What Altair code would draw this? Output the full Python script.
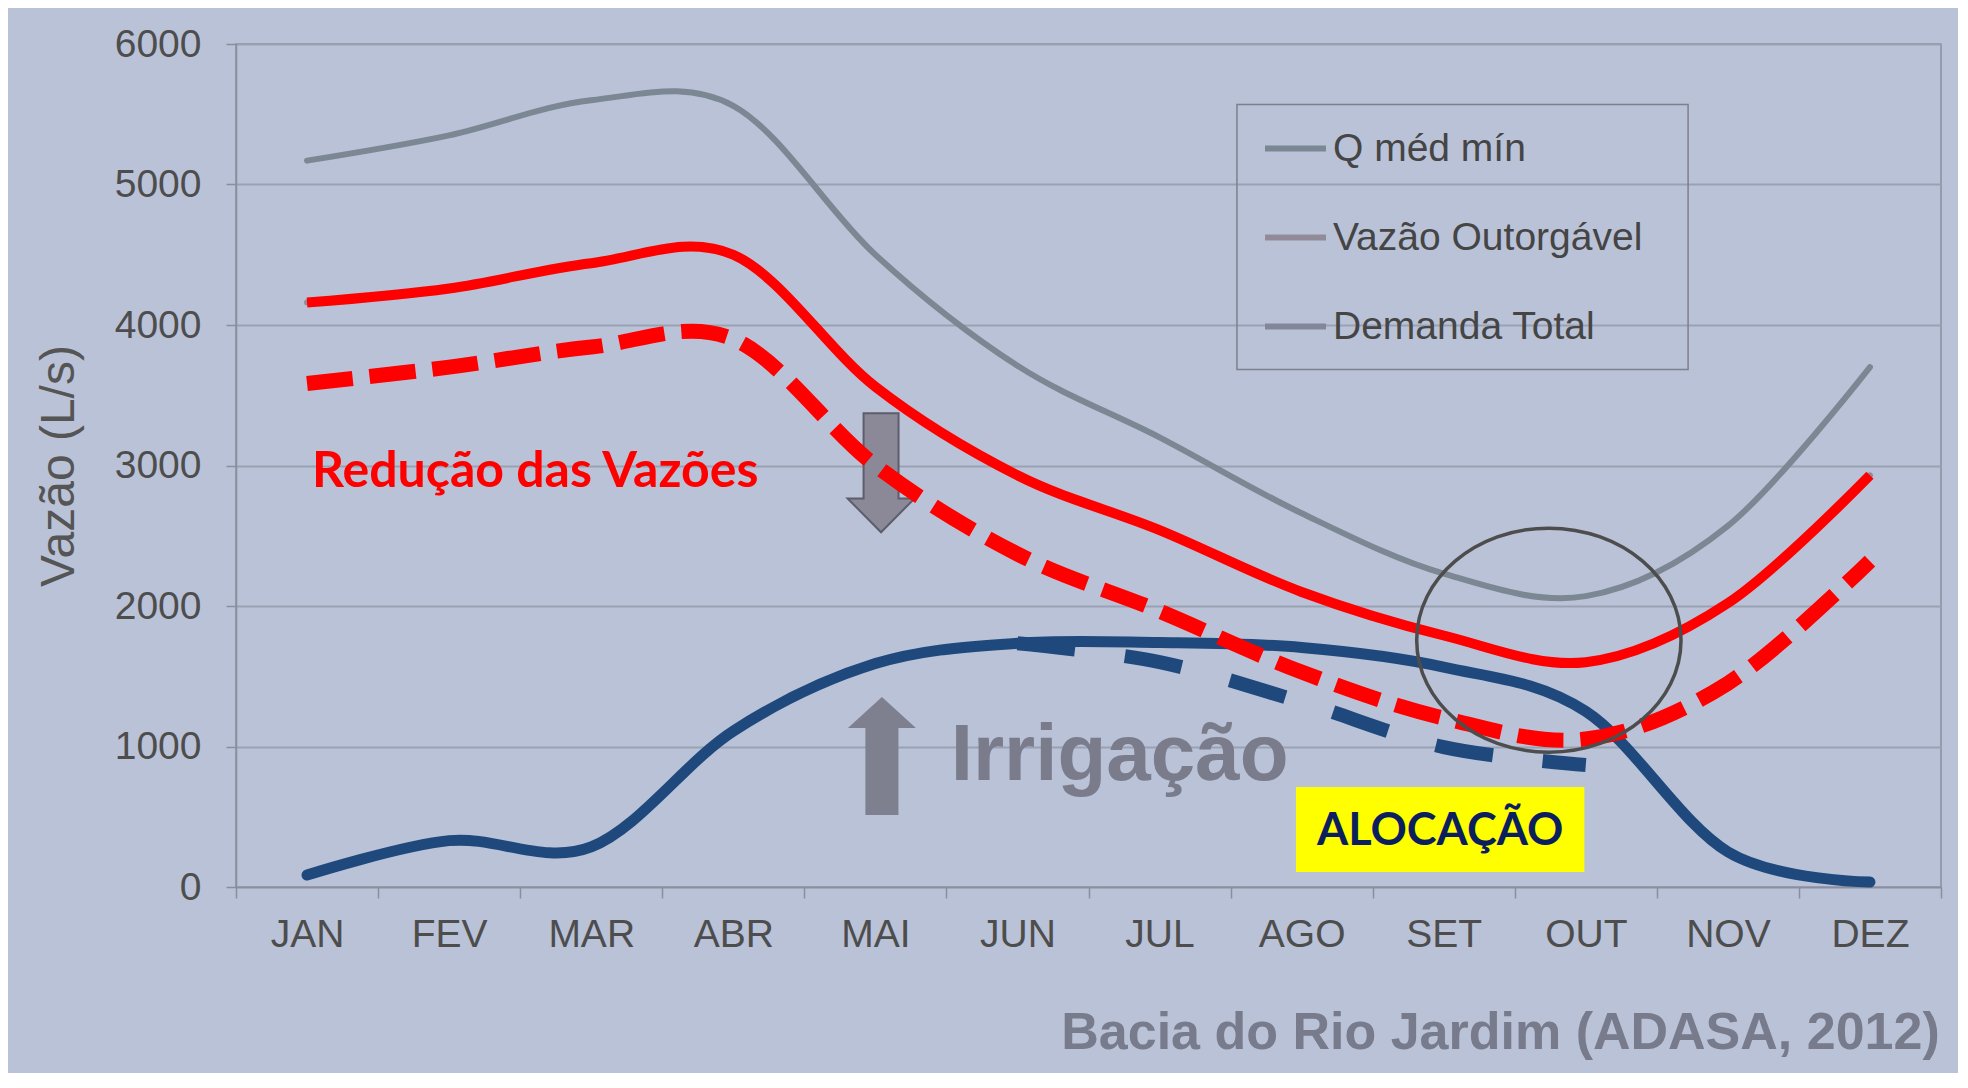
import altair as alt
import pandas as pd

# ---------------- data ----------------
months = ["JAN", "FEV", "MAR", "ABR", "MAI", "JUN", "JUL", "AGO", "SET", "OUT", "NOV", "DEZ"]
series_names = ["Q méd mín", "Vazão Outorgável", "Demanda Total"]
series_colors = ["#7b8792", "#918b98", "#84879a"]

q_med_min = [5170, 5350, 5600, 5560, 4500, 3710, 3200, 2660, 2230, 2070, 2570, 3700]
vazao_outorgavel = [4160, 4260, 4440, 4500, 3560, 2930, 2540, 2100, 1790, 1600, 2020, 2930]
demanda_total = [85, 330, 285, 1110, 1590, 1735, 1740, 1705, 1565, 1250, 250, 35]

# hand-drawn overlays
vazao_reduzida = [3584, 3700, 3843, 3900, 3000, 2370, 1963, 1530, 1202, 1053, 1450, 2320]
alocacao_months = ["JUN", "JUL", "AGO", "SET", "OUT"]
alocacao_reduzida = [1735, 1600, 1316, 996, 868]

y_ticks = [0, 1000, 2000, 3000, 4000, 5000, 6000]

# annotation anchors (x = month index, y = L/s)
txt_reducao = {"i": 0.035, "v": 2845, "t": "Redução das Vazões"}
txt_irrigacao = {"i": 4.53, "v": 761, "t": "Irrigação"}
txt_alocacao = {"i": 7.975, "v": 299, "t": "ALOCAÇÃO"}
box_alocacao = {"i": 6.96, "i2": 8.99, "v": 711, "v2": 107}
arrow_down = {"i": 4.04, "v": 2948}
arrow_up = {"i": 4.046, "v": 932}
ellipse = {"i": 8.74, "v": 1757}
legend_box = {"i": 6.545, "i2": 9.72, "v": 5569, "v2": 3684}

BG = "#bac2d7"

# ---------------- tables ----------------
rows = []
for name, vals in zip(series_names, [q_med_min, vazao_outorgavel, demanda_total]):
    for k, (m, val) in enumerate(zip(months, vals)):
        rows.append({"i": k, "mes": m, "serie": name, "v": val})
base_df = pd.DataFrame(rows)

vo_df = pd.DataFrame({"i": list(range(12)), "v": vazao_outorgavel})
dt_df = pd.DataFrame({"i": list(range(12)), "v": demanda_total})
red_df = pd.DataFrame({"i": list(range(12)), "v": vazao_reduzida})
blue_df = pd.DataFrame({"i": [months.index(m) for m in alocacao_months], "v": alocacao_reduzida})

# ---------------- scales / axes ----------------
month_expr = "[" + ",".join("'%s'" % m for m in months) + "][datum.value]"
x_values = [k * 0.5 - 0.5 for k in range(25)]

x_axis = alt.Axis(
    values=x_values,
    labelExpr="datum.value % 1 == 0 ? " + month_expr + " : ''",
    labelOverlap=False,
    labelFlush=False,
    grid=False,
    tickSize=11,
    tickOpacity={"condition": {"test": "datum.value % 1 == 0", "value": 0}, "value": 1},
    labelPadding=17,
    title=None,
)
y_axis = alt.Axis(
    values=y_ticks,
    format="d",
    grid=True,
    tickSize=10,
    labelPadding=25,
    title="Vazão (L/s)",
    titlePadding=31,
    titleFontSize=48,
    titleFontWeight="normal",
    titleColor="#555555",
    titleFont="Liberation Sans",
)
xs = alt.Scale(domain=[-0.5, 11.5], nice=False, zero=False)
ys = alt.Scale(domain=[0, 6000], nice=False)

X = alt.X("i:Q", scale=xs, axis=x_axis)
Y = alt.Y("v:Q", scale=ys, axis=y_axis)

# ---------------- layers ----------------
base_lines = alt.Chart(base_df).mark_line(interpolate="cardinal", strokeWidth=6, strokeCap="round").encode(
    x=X, y=Y,
    color=alt.Color(
        "serie:N",
        scale=alt.Scale(domain=series_names, range=series_colors),
        legend=alt.Legend(
            title=None,
            orient="none",
            legendX=1026,
            legendY=71,
            symbolType="stroke",
            symbolSize=3721,
            symbolStrokeWidth=6,
            labelFont="Liberation Sans",
            labelFontSize=39,
            labelColor="#454545",
            labelOffset=4,
            labelLimit=600,
            rowPadding=35,
            padding=0,
        ),
    ),
    detail="serie:N",
)

red_solid = alt.Chart(vo_df).mark_line(interpolate="cardinal", strokeWidth=10, color="#ff0000").encode(x=X, y=Y)
red_dash = alt.Chart(red_df).mark_line(
    interpolate="cardinal", strokeWidth=15, color="#ff0000", strokeDash=[46, 17]
).encode(x=X, y=Y)
blue_solid = alt.Chart(dt_df).mark_line(
    interpolate="cardinal", strokeWidth=11, color="#1f497d", strokeCap="round"
).encode(x=X, y=Y)
blue_dash = alt.Chart(blue_df).mark_line(
    interpolate="cardinal", strokeWidth=14, color="#1f497d", strokeDash=[58, 50]
).encode(x=X, y=Y)

leg_box = alt.Chart(pd.DataFrame([legend_box])).mark_rect(
    fillOpacity=0, stroke="#7d818d", strokeWidth=1.5
).encode(x=X, x2="i2:Q", y=Y, y2="v2:Q")

yellow = alt.Chart(pd.DataFrame([box_alocacao])).mark_rect(color="#ffff00").encode(
    x=X, x2="i2:Q", y=Y, y2="v2:Q"
)

down_path = "M -0.294 -1 L 0.294 -1 L 0.294 0.43 L 0.563 0.43 L 0 1 L -0.563 0.43 L -0.294 0.43 Z"
up_path = "M 0 -1 L 0.576 -0.475 L 0.28 -0.475 L 0.28 1 L -0.28 1 L -0.28 -0.475 L -0.576 -0.475 Z"
ell_path = "M -1.18 0 A 1.18 1 0 1 1 1.18 0 A 1.18 1 0 1 1 -1.18 0 Z"

a_down = alt.Chart(pd.DataFrame([arrow_down])).mark_point(
    shape=down_path, size=14161, filled=True, fill="#8b8898", stroke="#5e5d6a", strokeWidth=2, opacity=1
).encode(x=X, y=Y)
a_up = alt.Chart(pd.DataFrame([arrow_up])).mark_point(
    shape=up_path, size=13924, filled=True, fill="#7f808f", strokeWidth=0, opacity=1
).encode(x=X, y=Y)
ell = alt.Chart(pd.DataFrame([ellipse])).mark_point(
    shape=ell_path, size=50176, filled=False, stroke="#4d4d4d", strokeWidth=3.5, opacity=1
).encode(x=X, y=Y)

t_red = alt.Chart(pd.DataFrame([txt_reducao])).mark_text(
    align="left", baseline="alphabetic", font="Lato", fontWeight="bold", fontSize=50, color="#ff0000"
).encode(x=X, y=Y, text="t:N")
t_irr = alt.Chart(pd.DataFrame([txt_irrigacao])).mark_text(
    align="left", baseline="alphabetic", font="Liberation Sans", fontWeight="bold", fontSize=80, color="#7a7c8c"
).encode(x=X, y=Y, text="t:N")
t_alo = alt.Chart(pd.DataFrame([txt_alocacao])).mark_text(
    align="center", baseline="alphabetic", font="Lato", fontWeight="bold", fontSize=45, color="#0b1f5f"
).encode(x=X, y=Y, text="t:N")

chart = alt.layer(
    leg_box, yellow, t_irr, a_up, a_down, base_lines, red_solid, blue_solid, red_dash, blue_dash, ell, t_red, t_alo
).properties(
    width=1705,
    height=843,
    autosize=alt.AutoSizeParams(type="none"),
    padding={"left": 228, "top": 36, "right": 17, "bottom": 186},
    background=BG,
    title=alt.TitleParams(
        "Bacia do Rio Jardim (ADASA, 2012)",
        orient="bottom",
        anchor="end",
        font="Liberation Sans",
        fontSize=52,
        fontWeight="bold",
        color="#777b8b",
        offset=54,
        dx=-2,
    ),
).configure_view(
    stroke="#8a8f9f", strokeWidth=1.5, fill=BG
).configure_axis(
    labelFont="Liberation Sans",
    labelFontSize=39,
    labelColor="#4d4d4d",
    gridColor="#9aa1b3",
    gridWidth=2,
    domainColor="#8a8f9f",
    domainWidth=1.5,
    tickColor="#8a8f9f",
    tickWidth=1.5,
)

chart.save("out.html", embed_options={"renderer": "svg", "actions": False})
